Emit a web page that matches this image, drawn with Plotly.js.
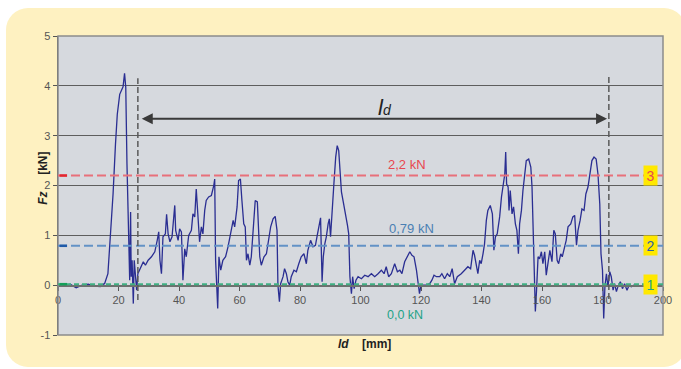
<!DOCTYPE html>
<html>
<head>
<meta charset="utf-8">
<script src="https://cdn.plot.ly/plotly-3.0.1.min.js"></script>
<style>
html,body{margin:0;padding:0;background:#ffffff;width:681px;height:369px;overflow:hidden;}
#bgbox{position:absolute;left:6px;top:8px;width:680px;height:359px;background:#fef1c1;border-radius:22px;}
#chart{position:absolute;left:0;top:0;width:681px;height:369px;}
</style>
</head>
<body>
<div id="bgbox"></div>
<div id="chart"></div>
<script>
// Travel ld [mm]
const ld = [0,2,4,6,8,10,12,14,15,15.4,16.5,17.1,18.2,19,19.6,20.4,21.5,22,22.4,22.8,23.4,23.7,24,24.2,24.5,24.9,25.2,25.6,26,26.4,27.3,28.2,28.9,29.8,30.9,32,32.8,33.3,33.7,34.2,34.7,35.5,35.9,36.4,37,37.7,38.6,38.9,39.7,40.2,40.8,41.3,41.9,42.4,43.2,44.1,44.6,45.2,45.7,46.1,46.5,46.8,47.4,47.9,48.5,49,49.8,50.7,51.5,51.8,52.1,52.5,52.8,53.2,53.8,54.5,55.4,56.2,57.1,57.9,58.4,59.2,59.7,60.3,60.8,61.4,61.9,62.3,62.8,63.4,63.9,64.5,65.2,65.9,66.4,66.7,67.2,68.1,68.9,69.6,70.3,71.1,71.8,72.4,72.7,73.2,73.6,74.4,74.9,75.5,76,76.6,77.1,78,78.8,79.6,80.4,81.3,82.1,82.6,83.5,84.3,85.1,85.7,86.3,86.8,87.3,87.7,88.2,88.7,89.3,89.7,90.1,90.6,91.2,91.8,92.3,92.8,93.2,93.7,94.3,95,95.7,96.1,96.5,97,97.4,97.9,98.5,99.2,100.3,101.4,102.5,103.6,104.7,105.8,106.9,107.8,108.5,109.3,110.2,111.3,112.2,113,113.7,114.6,115.5,116.3,117,117.7,118.5,119,119.5,119.9,120.7,121.8,122.9,123.6,124.3,125.1,126.2,126.9,127.8,128.7,129.5,130.3,131.1,132,133.3,134.4,135.5,136.4,137.2,137.7,138.3,138.8,139.4,139.9,140.5,141,141.6,142.1,142.9,143.6,144.1,144.6,145.2,146,146.6,147.1,147.7,148,148.3,148.8,149.1,149.5,150.1,150.6,151.2,151.7,152.2,152.6,153.2,153.7,154.3,154.8,155.6,156.3,156.7,157.1,157.5,157.8,158.2,158.7,159.2,159.8,160.3,160.9,161.4,162,162.6,163.3,163.9,164.4,165,165.5,166.2,166.7,167.5,168,168.6,169.5,170.2,170.8,171.4,171.9,172.6,173.2,173.9,174.5,175.2,175.9,176.5,177.2,177.9,178.5,179.1,179.5,180,180.4,180.8,181.3,181.8,182.4,182.9,183.5,184,184.6,185.1,185.9,186.6,187.3,188.1,188.8,189.5,190.4,191.7];
// Force Fz [kN]
const fz = [0,-0.02,0.02,-0.05,0,0.02,-0.02,-0.03,0.02,0.03,0.23,0.77,1.83,2.83,3.43,3.83,3.98,4.25,3.97,2.43,0.5,0.1,1.47,0.17,0.5,-0.37,0.5,0.23,-0.1,0.23,0.37,0.47,0.4,0.5,0.57,0.67,0.9,1.07,0.5,0.23,0.97,1.03,1.42,1.03,0.87,0.97,1.6,1.1,0.9,1.13,1.07,0.1,0.73,0.57,1.0,1.1,1.43,1.37,1.93,1.5,0.97,0.87,1.17,1.03,1.5,1.7,1.77,1.8,2.0,2.13,0.5,-0.17,-0.47,0.57,0.3,0.5,0.57,0.77,1.03,1.3,1.17,1.57,2.1,2.13,1.7,1.23,1.17,0.5,0.63,0.4,0.57,1.1,1.7,1.67,1.03,0.57,0.4,0.57,0.63,0.9,1.17,1.33,1.38,1.1,0,-0.33,0.03,0.17,0.33,0.23,0.07,0,0.17,0.3,0.27,0.43,0.57,0.63,0.43,0.7,0.9,0.77,0.8,1.0,1.23,1.35,0.07,0.57,0.83,0.97,1.23,1.33,0.97,1.37,2.03,2.57,2.8,2.7,2.23,1.87,1.67,1.47,1.2,1.03,0.17,-0.17,0.17,-0.07,0.1,0.17,0.13,0.2,0.17,0.23,0.17,0.23,0.3,0.23,0.37,0.17,0.23,0.43,0.27,0.3,0.23,0.47,0.57,0.67,0.6,0.57,0.3,0,-0.17,-0.03,0,0,0.03,0.1,0.2,0.17,0.17,0.23,0.13,0.23,0.17,0.33,0.03,0.17,0.23,0.3,0.37,0.33,0.7,0.6,0.37,0.23,0.5,0.43,0.63,0.83,1.3,1.5,1.6,1.43,0.7,0.97,1.03,1.37,1.77,2.03,2.23,2.67,2.03,1.97,1.5,1.9,1.43,1.57,1.23,1.1,0.63,1.23,1.5,1.9,2.3,2.5,2.53,2.37,1.97,1.17,0.1,-0.53,-0.1,0.57,0.53,0.67,0.43,0.67,0.2,0.43,0.7,0.47,1.1,1.03,0.5,0.43,0.63,0.57,0.77,0.9,1.17,1.23,1.37,1.4,0.8,1.1,1.3,1.53,1.5,1.83,1.97,2.3,2.5,2.57,2.53,2.23,1.63,0.63,0.3,-0.67,-0.03,0.23,-0.03,0.27,0.17,-0.1,0.03,-0.13,-0.03,0.07,-0.07,0.03,-0.1,0,-0.03,0,-0.01];

const xTicks = [0,20,40,60,80,100,120,140,160,180,200];
const yTicks = [-1,0,1,2,3,4,5];
const levelValues = [2.2, 0.79, 0.02];
const levelLabels = ['2,2 kN', '0,79 kN', '0,0 kN'];
const levelNumbers = ['3', '2', '1'];
const levelColors = ['#e8707a', '#6392c6', '#3fb083'];
const levelStrong = ['#e3262e', '#1f5aa8', '#13a058'];
const levelTextColors = ['#e8474f', '#4a7fb3', '#1fa387'];
const ldStart = 26.4, ldEnd = 182.1;

const font = 'Liberation Sans, Arial, sans-serif';

const shapes = [];
const annotations = [];

// plot frame
shapes.push({type:'rect', xref:'paper', yref:'paper', x0:0, x1:1, y0:0, y1:1, line:{color:'#8c8c8c', width:1.5}, layer:'above'});

levelValues.forEach((v,i)=>{
  shapes.push({type:'line', xref:'x', yref:'y', x0:0, x1:200, y0:v, y1:v,
    line:{color:levelColors[i], width:2, dash: i===2 ? '5px,3px' : '9px,4px'}});
  shapes.push({type:'line', xref:'x', yref:'y', x0:0.5, x1:3, y0:v, y1:v,
    line:{color:levelStrong[i], width:2.5}});
});

// vertical dashed boundaries of ld
shapes.push({type:'line', xref:'x', yref:'y', x0:ldStart, x1:ldStart, y0:-0.3, y1:4.15, line:{color:'#5a5a5a', width:1.5, dash:'6px,3px'}});
shapes.push({type:'line', xref:'x', yref:'y', x0:ldEnd, x1:ldEnd, y0:-0.28, y1:4.18, line:{color:'#5a5a5a', width:1.5, dash:'6px,3px'}});

// ld double arrow
annotations.push({x:ldEnd-0.6, y:3.34, ax:ldStart+0.8, ay:3.34, axref:'x', ayref:'y', xref:'x', yref:'y',
  text:'', showarrow:true, arrowside:'end+start', arrowhead:2, arrowsize:1.1, arrowwidth:2, arrowcolor:'#3a3a3a'});
annotations.push({x:108, y:3.57, xref:'x', yref:'y', showarrow:false,
  text:"<i>l</i><span style='font-size:14px'><i>d</i></span>", font:{family:font, size:22, color:'#222'}});

// axis titles
annotations.push({x:0.506, y:-0.06, xref:'paper', yref:'paper', showarrow:false,
  text:"<b><i>ld</i>&nbsp;&nbsp;&nbsp;&nbsp;[mm]</b>", font:{family:font, size:12, color:'#222'}});
annotations.push({x:-0.04, y:0.525, xref:'paper', yref:'paper', showarrow:false, textangle:-90,
  text:"<b><i>Fz</i>&nbsp;&nbsp;&nbsp;&nbsp;&nbsp;[kN]</b>", font:{family:font, size:12, color:'#222'}});

// level labels
const labelPos = [[115.4, 2.42], [116.7, 1.14], [114.6, -0.59]];
const labelSizes = [13, 13, 12.5];
levelLabels.forEach((t,i)=>{
  annotations.push({x:labelPos[i][0], y:labelPos[i][1], xref:'x', yref:'y', showarrow:false, text:t,
    font:{family:font, size:labelSizes[i], color:levelTextColors[i]}});
  annotations.push({x:195.8, y:levelValues[i] + (i===1?0.01:0), xref:'x', yref:'y', showarrow:false, text:levelNumbers[i],
    bgcolor:'#ffe800', width:13, height:19, borderpad:0,
    font:{family:font, size:14, color: i===0?'#e8474f':(i===1?'#2e5fa8':'#1fa387')}});
});

const trace = {x: ld, y: fz, type:'scatter', mode:'lines', line:{color:'#2a2e92', width:1.3}, hoverinfo:'skip'};

const layout = {
  width:681, height:369,
  margin:{l:58, r:18, t:36, b:34},
  paper_bgcolor:'rgba(0,0,0,0)',
  plot_bgcolor:'#d6d9de',
  showlegend:false,
  font:{family:font, color:'#555'},
  xaxis:{range:[0,200], tickvals:xTicks, ticktext:xTicks.map(String), anchor:'free', position:1/6,
    showgrid:false, zeroline:false, showline:true, linecolor:'#6e6e6e', linewidth:1.5,
    ticks:'outside', ticklen:4, tickcolor:'#555', tickfont:{size:11, color:'#555'}},
  yaxis:{range:[-1,5], tickvals:yTicks, ticktext:yTicks.map(String),
    showgrid:true, gridcolor:'#5e5e5e', gridwidth:1.2, zeroline:false,
    showline:true, linecolor:'#555', linewidth:1.5,
    ticks:'outside', ticklen:4, tickcolor:'#555', tickfont:{size:11, color:'#555'}},
  shapes: shapes,
  annotations: annotations
};

Plotly.newPlot('chart', [trace], layout, {displayModeBar:false, staticPlot:true});
</script>
</body>
</html>
